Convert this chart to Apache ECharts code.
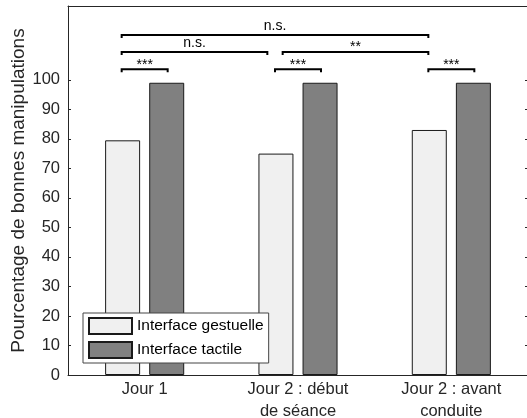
<!DOCTYPE html>
<html>
<head>
<meta charset="utf-8">
<script src="https://cdn.jsdelivr.net/npm/echarts@6/dist/echarts.min.js"></script>
<style>
  html, body { margin: 0; padding: 0; background: #fff; }
  #chart-container { width: 527px; height: 418px; }
</style>
</head>
<body>
<div id="chart-container"></div>
<script>
const categories = ['Jour 1', 'Jour 2 : début\nde séance', 'Jour 2 : avant\nconduite'];
const gestuelle = [79.5, 75, 83];
const tactile = [99, 99, 99];
const yTicks = [0, 10, 20, 30, 40, 50, 60, 70, 80, 90, 100];

// significance brackets, in category units (0 = first group centre)
const bracketFrom = [-0.15, 0.85, 1.85, -0.15, 0.9, -0.15];
const bracketTo = [0.15, 1.15, 2.15, 0.8, 1.85, 1.85];
const bracketLevel = [103.6, 103.6, 103.6, 109.4, 109.4, 115.2];
const bracketLabel = ['***', '***', '***', 'n.s.', '**', 'n.s.'];

const font = 'Liberation Sans, Arial, sans-serif';
const axisColor = '#262626';

const chartContainer = document.getElementById('chart-container');
const myChart = echarts.init(chartContainer);

const bracketData = bracketFrom.map((f, i) => [f, bracketTo[i], bracketLevel[i]]);

const options = {
    backgroundColor: '#fff',
    animation: false,
    textStyle: { fontFamily: font, color: axisColor },
    grid: { left: 68, top: 6, width: 460, height: 369, outerBoundsMode: 'none', containLabel: false },
    legend: {
        orient: 'vertical',
        left: 83,
        top: 313,
        padding: [4, 5, 4, 5],
        itemWidth: 43,
        itemHeight: 16,
        itemGap: 6,
        icon: 'rect',
        backgroundColor: '#fff',
        borderColor: '#444',
        borderWidth: 1,
        textStyle: { fontFamily: font, fontSize: 15.5, color: '#000' },
        data: ['Interface gestuelle', 'Interface tactile']
    },
    xAxis: [{
        type: 'category',
        data: categories,
        axisLine: { onZero: false, lineStyle: { color: axisColor, width: 1 } },
        axisTick: { inside: true, length: 5, alignWithLabel: true, lineStyle: { color: axisColor } },
        axisLabel: { fontFamily: font, fontSize: 16.5, color: axisColor, lineHeight: 22, margin: 3 }
    }, {
        type: 'category',
        position: 'top',
        data: categories,
        axisLine: { onZero: false, lineStyle: { color: axisColor, width: 1 } },
        axisTick: { inside: true, length: 5, alignWithLabel: true, lineStyle: { color: axisColor } },
        axisLabel: { show: false }
    }, {
        type: 'value',
        min: -0.5,
        max: 2.5,
        show: false
    }],
    yAxis: [{
        type: 'value',
        min: 0,
        max: 125,
        interval: 5,
        name: 'Pourcentage de bonnes manipulations',
        nameLocation: 'middle',
        nameGap: 40,
        nameMoveOverlap: false,
        nameTextStyle: { fontFamily: font, fontSize: 19, color: axisColor },
        splitLine: { show: false },
        axisLine: { show: true, onZero: false, lineStyle: { color: axisColor, width: 1 } },
        axisTick: { show: true, inside: true, length: 3, customValues: yTicks, lineStyle: { color: axisColor } },
        axisLabel: { fontFamily: font, fontSize: 16.5, color: axisColor, margin: 8, customValues: yTicks }
    }, {
        type: 'value',
        position: 'right',
        min: 0,
        max: 125,
        interval: 5,
        splitLine: { show: false },
        axisLine: { show: true, onZero: false, lineStyle: { color: axisColor, width: 1 } },
        axisTick: { show: true, inside: true, length: 3, customValues: yTicks, lineStyle: { color: axisColor } },
        axisLabel: { show: false }
    }],
    series: [{
        name: 'Interface gestuelle',
        type: 'bar',
        xAxisIndex: 0,
        yAxisIndex: 0,
        barWidth: 35,
        barGap: '26%',
        itemStyle: { color: '#f0f0f0', borderColor: '#1a1a1a', borderWidth: 1 },
        data: gestuelle
    }, {
        name: 'Interface tactile',
        type: 'bar',
        xAxisIndex: 0,
        yAxisIndex: 0,
        barWidth: 35,
        itemStyle: { color: '#808080', borderColor: '#1a1a1a', borderWidth: 1 },
        data: tactile
    }, {
        type: 'custom',
        xAxisIndex: 2,
        yAxisIndex: 0,
        silent: true,
        renderItem: function (params, api) {
            const a = api.coord([api.value(0), api.value(2)]);
            const b = api.coord([api.value(1), api.value(2)]);
            const label = bracketLabel[params.dataIndex];
            const stars = label.indexOf('*') >= 0;
            return {
                type: 'group',
                children: [{
                    type: 'polyline',
                    shape: { points: [[a[0], a[1] + 3], a, b, [b[0], b[1] + 3]] },
                    style: { stroke: '#000', lineWidth: 2, fill: null }
                }, {
                    type: 'text',
                    x: (a[0] + b[0]) / 2,
                    y: a[1] - (stars ? 4.5 : 9),
                    style: {
                        text: label,
                        fontFamily: font,
                        fontSize: 14,
                        fill: '#000',
                        align: 'center',
                        verticalAlign: 'middle'
                    }
                }]
            };
        },
        data: bracketData
    }]
};

myChart.setOption(options);
</script>
</body>
</html>
